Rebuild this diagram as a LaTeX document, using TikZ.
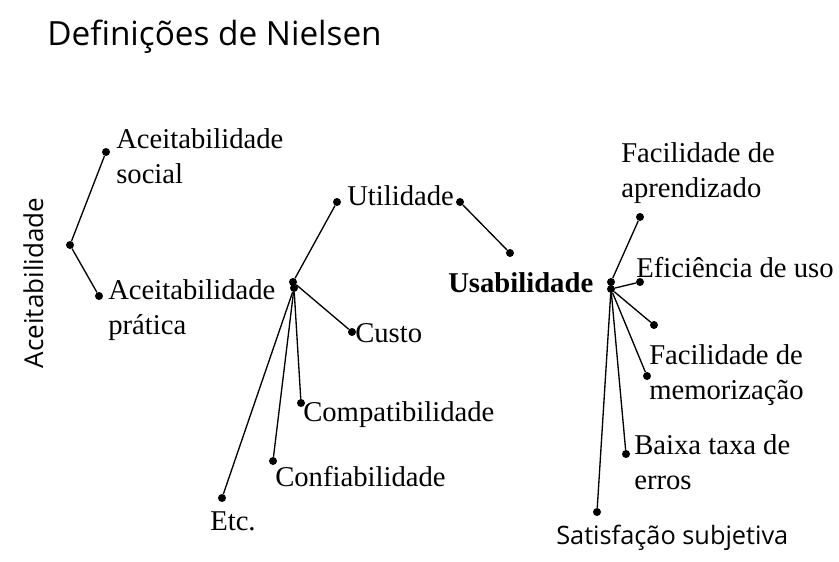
\documentclass[tikz,border=0pt]{standalone}
\usepackage{fontspec}
\setmainfont{Liberation Serif}
\newfontfamily\slidefont{Open Sans}
\usetikzlibrary{positioning}
\tikzset{
	dot/.style={circle,fill=black,inner sep=0pt, minimum size=6pt},
	lbl/.style={inner sep=0pt,anchor=base west,align=left,font=\fontsize{21.5}{26.25}\selectfont},
	ramo/.style={line width=1pt,shorten >=0pt,shorten <=0pt},
	}
\begin{document}
\begin{tikzpicture}[x=0.75pt,y=-0.75pt]
\useasboundingbox (0,0) rectangle (839,561);
%TITULO
\node (titulo) at (47,45) [anchor=base west,inner sep=0pt,font=\slidefont\fontsize{25}{30}\selectfont] {Definições de Nielsen};
\node (aceit) at (43,283) [anchor=base,inner sep=0pt,rotate=90,font=\slidefont\fontsize{19.5}{24}\selectfont] {Aceitabilidade};
%PONTOS
\node[dot] (a) at (70,245) {};
\node[dot] (soc) at (106,152) {};
\node[dot] (prat) at (99,296) {};
\node[dot] (p1) at (293,282) {};
\node[dot] (p2) at (294,288) {};
\node[dot] (util) at (337,202) {};
\node[dot] (cust) at (352,332) {};
\node[dot] (comp) at (301,403) {};
\node[dot] (conf) at (273,461) {};
\node[dot] (etc) at (222,498) {};
\node[dot] (utilr) at (460,202) {};
\node[dot] (usab) at (510,253) {};
\node[dot] (u1) at (611,282) {};
\node[dot] (u2) at (611,289) {};
\node[dot] (apre) at (640,217) {};
\node[dot] (efic) at (640,282) {};
\node[dot] (extra) at (654,325) {};
\node[dot] (memo) at (647,376) {};
\node[dot] (baix) at (626,454) {};
\node[dot] (satis) at (597,512) {};
%TEXTOS (base = ultima linha)
\node[lbl] (tsoc) at (116,183) {Aceitabilidade\\social};
\node[lbl] (tprat) at (108,334) {Aceitabilidade\\prática};
\node[lbl] (tutil) at (347,205) {Utilidade};
\node[lbl] (tcust) at (355,342) {Custo};
\node[lbl] (tcomp) at (303,421) {Compatibilidade};
\node[lbl] (tconf) at (275,486) {Confiabilidade};
\node[lbl] (tetc) at (210,530) {Etc.};
\node[lbl,font=\bfseries\fontsize{21.5}{26.25}\selectfont] (tusab) at (448,292) {Usabilidade};
\node[lbl] (tapre) at (621,197) {Facilidade de\\aprendizado};
\node[lbl] (tefic) at (636,277) {Eficiência de uso};
\node[lbl] (tmemo) at (649,399) {Facilidade de\\memorização};
\node[lbl] (tbaix) at (634,489) {Baixa taxa de\\erros};
\node[lbl,font=\slidefont\fontsize{19}{24}\selectfont] (tsatis) at (556,544) {Satisfação subjetiva};
%LIGACOES
\draw[ramo] (a) -- (soc);
\draw[ramo] (a) -- (prat);
\draw[ramo] (p1) -- (util);
\draw[ramo] (p1) -- (cust);
\draw[ramo] (p2) -- (comp);
\draw[ramo] (p2) -- (conf);
\draw[ramo] (p2) -- (etc);
\draw[ramo] (utilr) -- (usab);
\draw[ramo] (u1) -- (apre);
\draw[ramo] (u2) -- (efic);
\draw[ramo] (u2) -- (extra);
\draw[ramo] (u2) -- (memo);
\draw[ramo] (u2) -- (baix);
\draw[ramo] (u2) -- (satis);
\end{tikzpicture}
\end{document}
